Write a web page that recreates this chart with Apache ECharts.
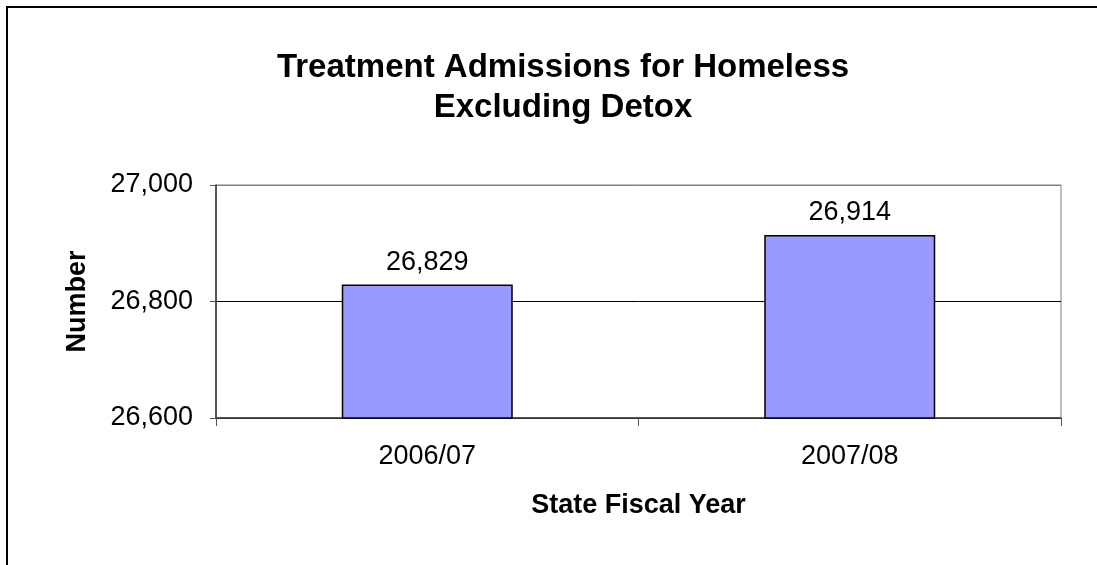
<!DOCTYPE html>
<html><head><meta charset="utf-8">
<script src="https://cdn.jsdelivr.net/npm/echarts@6/dist/echarts.min.js"></script>
<style>html,body{margin:0;padding:0;background:#fff}#c{width:1097px;height:565px}</style>
</head><body><div id="c"></div>
<script>
const categories = ['2006/07', '2007/08'];
const admissions = [26829, 26914];
const yTicks = { min: 26600, max: 27000, interval: 200 };

const fmt = v => Number(v).toLocaleString('en-US');
const FONT = '"Liberation Sans", Arial, sans-serif';
const chart = echarts.init(document.getElementById('c'));
chart.setOption({
  animation: false,
  backgroundColor: '#fff',
  title: {
    text: 'Treatment Admissions for Homeless\nExcluding Detox',
    left: 558, top: 43, textAlign: 'center',
    textStyle: { fontFamily: FONT, fontSize: 33, fontWeight: 'bold', color: '#000', lineHeight: 40 }
  },
  graphic: [{
    type: 'rect', shape: { x: 7, y: 7, width: 1200, height: 700 },
    style: { fill: 'none', stroke: '#000', lineWidth: 2 }, silent: true, z: 100
  }],
  grid: { left: 216, right: 36, top: 185, bottom: 147, show: true, borderColor: '#808080', borderWidth: 1 },
  xAxis: {
    type: 'category', data: categories,
    axisLine: { lineStyle: { color: '#333', width: 1.5 } },
    axisTick: { show: true, length: 8, lineStyle: { color: '#555' } },
    axisLabel: { fontFamily: FONT, fontSize: 27, color: '#000', margin: 25 },
    name: 'State Fiscal Year', nameLocation: 'middle', nameGap: 74,
    nameTextStyle: { fontFamily: FONT, fontSize: 27, fontWeight: 'bold', color: '#000' }
  },
  yAxis: {
    type: 'value', min: yTicks.min, max: yTicks.max, interval: yTicks.interval,
    axisLine: { show: true, lineStyle: { color: '#333', width: 1.5 } },
    axisTick: { show: true, length: 6, lineStyle: { color: '#555' } },
    splitLine: { show: true, lineStyle: { color: ['#333', '#000', '#808080'], width: 1 } },
    axisLabel: { fontFamily: FONT, fontSize: 27, color: '#000', margin: 23, formatter: fmt },
    name: 'Number', nameLocation: 'middle', nameGap: 125, nameRotate: 90,
    nameTextStyle: { fontFamily: FONT, fontSize: 27, fontWeight: 'bold', color: '#000' }
  },
  series: [{
    type: 'bar', data: admissions, barWidth: 171,
    itemStyle: { color: '#9999FF', borderColor: '#000', borderWidth: 1.5 },
    label: { show: true, position: 'top', distance: 9, fontFamily: FONT, fontSize: 27, color: '#000', formatter: p => fmt(p.value) }
  }]
});
</script></body></html>
